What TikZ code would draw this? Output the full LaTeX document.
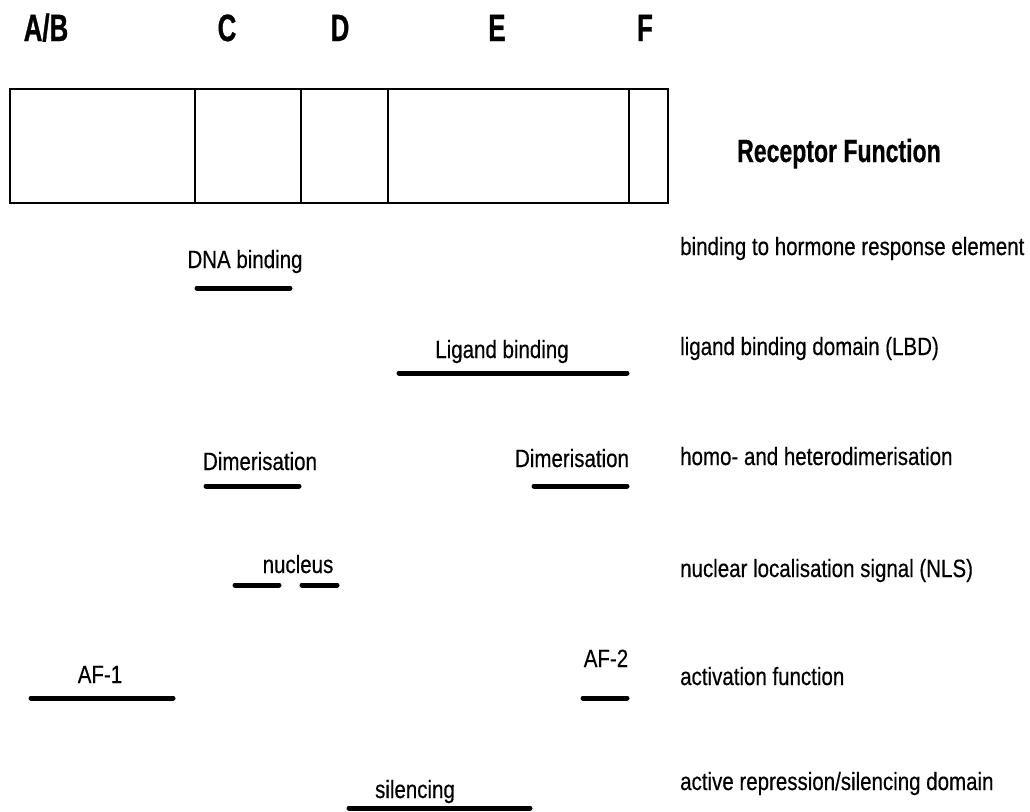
\documentclass[tikz,border=0pt]{standalone}
\usepackage{fontspec}
\setmainfont{Liberation Sans}[FakeStretch=0.82, FakeBold=0.4]
\newfontfamily\headfont{Liberation Sans}[FakeStretch=0.68, FakeBold=0.8]
\newfontfamily\titlefont{Liberation Sans}[FakeStretch=0.72, FakeBold=0.6]
\usetikzlibrary{positioning}

\begin{document}
\begin{tikzpicture}[x=1pt, y=-1pt,
  seg/.style={draw, line width=1.5pt, minimum height=114pt, inner sep=0pt, outer sep=0pt},
  dom/.style={font=\headfont\bfseries\fontsize{38}{38}\selectfont, anchor=base, inner sep=0pt},
  head/.style={font=\titlefont\bfseries\fontsize{32}{32}\selectfont, anchor=base west, inner sep=0pt},
  tag/.style={font=\fontsize{25}{25}\selectfont, anchor=base, inner sep=0pt},
  fn/.style={font=\fontsize{25}{25}\selectfont, anchor=base west, inner sep=0pt},
  bar/.style={line width=5pt, line cap=round}]

  \useasboundingbox (0,0) rectangle (1030,811);

  % Domain letters above the receptor
  \node[dom] (lab) at (46,41) {A/B};
  \node[dom] (lc) at (227,41) {C};
  \node[dom] (ld) at (340,41) {D};
  \node[dom] (le) at (497,41) {E};
  \node[dom] (lf) at (645,41) {F};

  % Receptor domains
  \node[seg, minimum width=185pt, anchor=north west] (ab) at (10,89) {};
  \node[seg, minimum width=106pt, right=0pt of ab] (c) {};
  \node[seg, minimum width=87pt, right=0pt of c] (d) {};
  \node[seg, minimum width=241pt, right=0pt of d] (e) {};
  \node[seg, minimum width=39pt, right=0pt of e] (f) {};

  \node[head] (title) at (737,162) {Receptor Function};

  % Regions and their labels
  \node[tag] (dna) at (245,268) {DNA binding};
  \draw[bar] (197,288) -- (290,288);

  \node[tag] (lig) at (502,358) {Ligand binding};
  \draw[bar] (399,373) -- (627,373);

  \node[tag] (dim1) at (260,470) {Dimerisation};
  \draw[bar] (206,486) -- (299,486);
  \node[tag] (dim2) at (572,467) {Dimerisation};
  \draw[bar] (534,486) -- (627,486);

  \node[tag] (nuc) at (298,573) {nucleus};
  \draw[bar] (235,585) -- (279,585);
  \draw[bar] (302,585) -- (337,585);

  \node[tag] (af1) at (100,683) {AF-1};
  \draw[bar] (31,698) -- (173,698);
  \node[tag] (af2) at (606,667) {AF-2};
  \draw[bar] (583,698) -- (627,698);

  \node[tag] (sil) at (415,798) {silencing};
  \draw[bar] (349,808) -- (530,808);

  % Functions on the right
  \node[fn] (fdna) at (680,255) {binding to hormone response element};
  \node[fn] (flbd) at (680,355) {ligand binding domain (LBD)};
  \node[fn] (fdim) at (680,465) {homo- and heterodimerisation};
  \node[fn] (fnls) at (680,577) {nuclear localisation signal (NLS)};
  \node[fn] (faf) at (680,685) {activation function};
  \node[fn] (fsil) at (680,790) {active repression/silencing domain};

\end{tikzpicture}
\end{document}
